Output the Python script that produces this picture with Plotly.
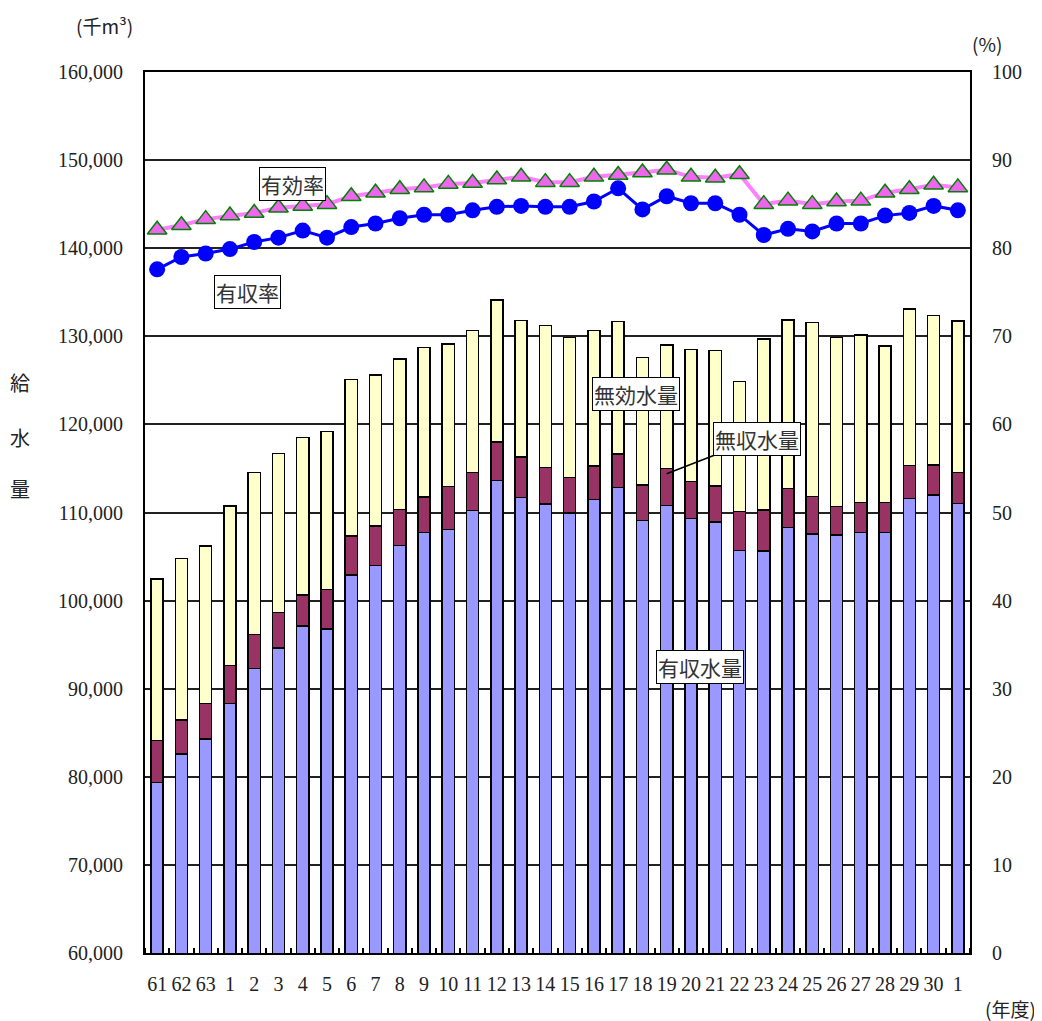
import plotly.graph_objects as go

years = ["61", "62", "63", "1", "2", "3", "4", "5", "6", "7", "8", "9", "10", "11", "12",
         "13", "14", "15", "16", "17", "18", "19", "20", "21", "22", "23", "24", "25", "26",
         "27", "28", "29", "30", "1"]

# 有収水量 (千m3)
yushu = [79380, 82590, 84290, 88340, 92270, 94620, 97120, 96780, 102910, 103960, 106280,
         107750, 108050, 110200, 113610, 111720, 110960, 109940, 111450, 112820, 109070,
         110770, 109340, 108920, 105710, 105640, 108280, 107560, 107450, 107710, 107750,
         111570, 111990, 111040]
# 無収水量 (千m3)
mushu = [4720, 3860, 4050, 4270, 3900, 4050, 3520, 4500, 4420, 4510, 4080, 4010, 4880,
         4360, 4390, 4580, 4170, 4010, 3830, 3820, 4050, 4250, 4200, 4090, 4380, 4640,
         4470, 4240, 3210, 3400, 3410, 3740, 3400, 3480]
# 無効水量 (千m3)
mukou = [18350, 18310, 17860, 18130, 18350, 18000, 17890, 17890, 17790, 17140, 17060,
         16950, 16200, 16080, 16120, 15470, 16070, 15890, 15400, 15060, 14450, 13990,
         14980, 15360, 14760, 19410, 19100, 19750, 19230, 19040, 17740, 17790, 16950, 17220]
# 有効率 (%)
yukouritsu = [82.1, 82.6, 83.3, 83.7, 84.0, 84.6, 84.8, 85.0, 85.9, 86.3, 86.7, 86.9,
              87.3, 87.4, 87.8, 88.1, 87.5, 87.5, 88.1, 88.3, 88.6, 88.9, 88.1, 88.0,
              88.4, 85.0, 85.4, 85.0, 85.3, 85.4, 86.3, 86.7, 87.2, 86.9]
# 有収率 (%)
yushuritsu = [77.6, 79.0, 79.4, 79.9, 80.7, 81.2, 82.0, 81.2, 82.4, 82.8, 83.4, 83.8,
              83.8, 84.3, 84.7, 84.8, 84.7, 84.7, 85.3, 86.8, 84.4, 85.9, 85.1, 85.1,
              83.8, 81.5, 82.2, 81.9, 82.8, 82.8, 83.7, 84.0, 84.8, 84.3]

left_ticks = list(range(60000, 160001, 10000))
left_ticktext = [f"{v:,}" for v in left_ticks]
right_ticks = list(range(0, 101, 10))

xs = list(range(len(years)))
SERIF = "'Liberation Serif', 'Times New Roman', Tinos, 'DejaVu Serif', serif"
JP = "'Noto Sans CJK JP', sans-serif"

fig = go.Figure()
bar_line = dict(color="black", width=1.5)
fig.add_trace(go.Bar(x=xs, y=yushu, name="有収水量", marker=dict(color="#9999FF", line=bar_line), width=0.5))
fig.add_trace(go.Bar(x=xs, y=mushu, name="無収水量", marker=dict(color="#993366", line=bar_line), width=0.5))
fig.add_trace(go.Bar(x=xs, y=mukou, name="無効水量", marker=dict(color="#FFFFCC", line=bar_line), width=0.5))

fig.add_trace(go.Scatter(x=xs, y=yukouritsu, yaxis="y2", name="有効率", mode="lines+markers",
                         line=dict(color="#FF80FF", width=4),
                         marker=dict(symbol="triangle-up", size=17, color="#EE66EE",
                                     line=dict(color="#008000", width=1.5))))
fig.add_trace(go.Scatter(x=xs, y=yushuritsu, yaxis="y2", name="有収率", mode="lines+markers",
                         line=dict(color="#0000FF", width=3),
                         marker=dict(symbol="circle", size=16, color="#0000FF")))

# page has an 8px body margin, so the figure is drawn 8px in and 8px down
fig.update_layout(
    width=1034, height=1013,
    margin=dict(l=137, r=72, t=64, b=68, autoexpand=False),
    barmode="stack",
    showlegend=False,
    plot_bgcolor="white", paper_bgcolor="white",
    font=dict(family=SERIF, size=19, color="#222"),
    xaxis=dict(range=[-0.5, len(years) - 0.5], tickmode="array", tickvals=xs, ticktext=years,
               ticks="", showgrid=False, zeroline=False, automargin=False,
               showline=True, linecolor="black", linewidth=2, mirror=True,
               ticklabelstandoff=12,
               tickfont=dict(family=SERIF, size=20, color="#222"),
               minor=dict(tickmode="linear", tick0=0.5, dtick=1, ticks="inside",
                          ticklen=5, tickcolor="black", tickwidth=1.5, showgrid=False)),
    yaxis=dict(range=[60000, 160000], tickmode="array", tickvals=left_ticks, ticktext=left_ticktext,
               showgrid=True, gridcolor="#222", gridwidth=1.5, zeroline=False, automargin=False,
               showline=True, linecolor="black", linewidth=2, ticks="",
               ticklabelstandoff=16,
               tickfont=dict(family=SERIF, size=20, color="#222")),
    yaxis2=dict(range=[0, 100], tickmode="array", tickvals=right_ticks, overlaying="y", side="right",
                showgrid=False, zeroline=False, showline=True, linecolor="black", linewidth=2,
                ticks="", ticklabelstandoff=16, automargin=False,
                tickfont=dict(family=SERIF, size=20, color="#222")),
)

def px2paper(px, py):
    return (px - 145) / 825, (953 - py) / 881

def box(text, px, py, size=21):
    x, y = px2paper(px, py)
    fig.add_annotation(x=x, y=y, xref="paper", yref="paper", text=text, showarrow=False,
                       xanchor="center", yanchor="middle",
                       font=dict(family=JP, size=size, color="#333"),
                       bgcolor="white", bordercolor="black", borderwidth=1, borderpad=1)

box("有効率", 292, 184)
box("有収率", 247, 292)
box("無効水量", 636, 394)
box("有収水量", 700, 667)

# 無収水量 label with pointer to the 19 bar
fig.add_annotation(x=21, y=114400, xref="x", yref="y", text="無収水量",
                   showarrow=True, arrowhead=0, arrowwidth=1.5, arrowcolor="black",
                   ax=90, ay=-35, axref="pixel", ayref="pixel",
                   xanchor="center", yanchor="middle",
                   font=dict(family=JP, size=21, color="#333"),
                   bgcolor="white", bordercolor="black", borderwidth=1, borderpad=1)

def label(text, px, py, size=19, family=JP):
    x, y = px2paper(px, py)
    fig.add_annotation(x=x, y=y, xref="paper", yref="paper", text=text, showarrow=False,
                       xanchor="center", yanchor="middle",
                       font=dict(family=family, size=size, color="#222"))

label("(千m³)", 104, 25)
label("(%)", 987, 43)
label("(年度)", 1010, 1008)
label("給", 20, 383, size=20)
label("水", 20, 437, size=20)
label("量", 20, 488, size=20)

fig.write_html("out.html")
